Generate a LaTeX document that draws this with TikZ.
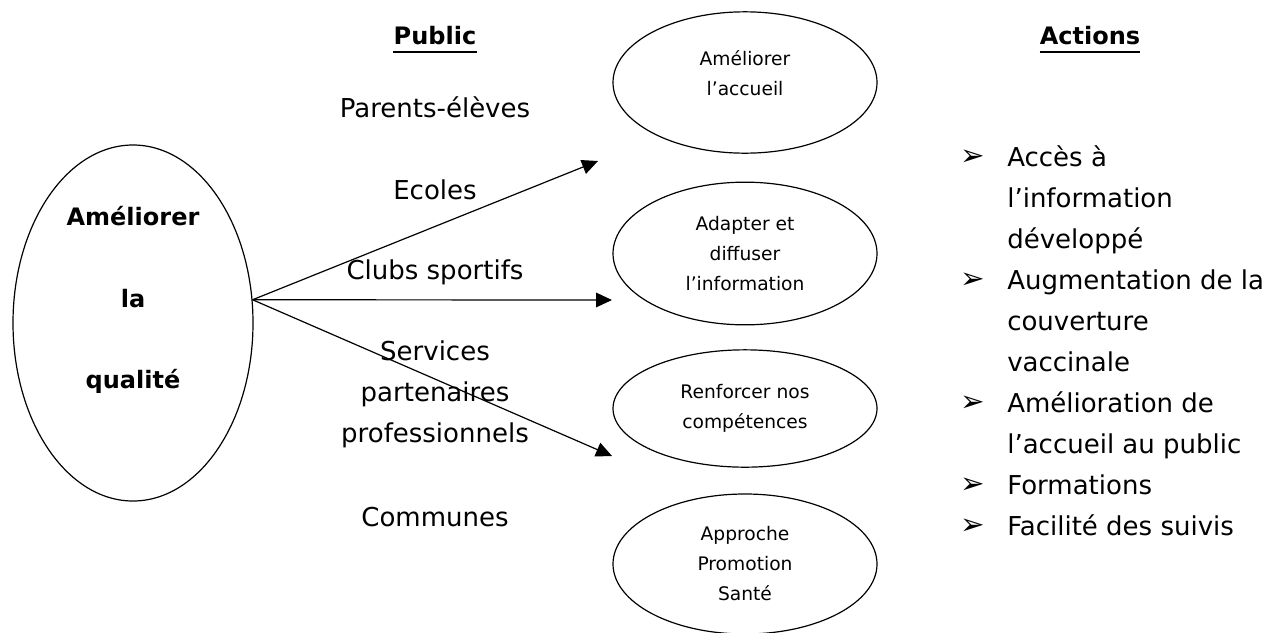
\documentclass[tikz,border=0pt]{standalone}
\usepackage{fontspec}
\setmainfont{DejaVu Sans}
\usetikzlibrary{shapes.geometric,arrows.meta}

\begin{document}
\begin{tikzpicture}[x = 0.75pt, y = -0.75pt,
    every node/.style = { inner sep = 0pt, align = center },
    oval/.style = { draw, shape = ellipse, line width = 0.9pt },
    bigtxt/.style = { font = \fontsize{18}{61}\selectfont\bfseries },
    smalltxt/.style = { font = \fontsize{14}{22.5}\selectfont },
    txt/.style = { font = \fontsize{19.5}{30.75}\selectfont },
    head/.style = { font = \fontsize{18}{22}\selectfont\bfseries },
    arr/.style = { line width = 0.9pt, -{Triangle[length = 12pt, width = 11pt]} }]
  \useasboundingbox (0,0) rectangle (1273,632);

  % goal
  \node [oval, minimum width = 180pt, minimum height = 267pt] (qual) at (133,323) {};
  \node [bigtxt] (qualtxt) at (133,300) {Améliorer\\la\\qualité};

  % public
  \node [head] (pub) at (435,36) {Public};
  \draw [line width = 1.5pt] ([yshift = -5pt] pub.base west) -- ([yshift = -5pt] pub.base east);
  \node [txt] (par) at (435,107) {Parents-élèves};
  \node [txt] (eco) at (435,190) {Ecoles};
  \node [txt] (clu) at (435,272) {Clubs sportifs};
  \node [txt] (ser) at (435,394) {Services\\partenaires\\professionnels};
  \node [txt] (com) at (435,517) {Communes};

  % axes
  \node [oval, minimum width = 198pt, minimum height = 106pt] (acc) at (745,82.5) {};
  \node [smalltxt] (acctxt) at (745,73) {Améliorer\\l’accueil};
  \node [oval, smalltxt, minimum width = 198pt, minimum height = 107pt] (inf) at (745,253.5) {Adapter et\\diffuser\\l’information};
  \node [oval, smalltxt, minimum width = 198pt, minimum height = 88pt] (comp) at (745,408.5) {Renforcer nos\\compétences};
  \node [oval, smalltxt, minimum width = 198pt, minimum height = 105pt] (promo) at (745,564) {Approche\\Promotion\\Santé};

  \coordinate (tip1) at (598,161);
  \coordinate (tip2) at (612,300);
  \coordinate (tip3) at (612,456);
  \foreach \t in {tip1,tip2,tip3}
    \draw [arr] (qual.11) -- (\t);

  % actions
  \node [head] (act) at (1090,36) {Actions};
  \draw [line width = 1.5pt] ([yshift = -5pt] act.base west) -- ([yshift = -5pt] act.base east);
  \foreach \t [count = \i] in {Accès à, l’information, développé, Augmentation de la, couverture,
      vaccinale, Amélioration de, l’accueil au public, Formations, Facilité des suivis}
    \node [txt, anchor = base west] (line\i) at (1007, {166 + 41*\i - 41}) {\t};
  \foreach \i in {1,4,7,9,10}
    \node [font = \fontsize{22}{22}\selectfont, anchor = west] (bul\i) at (960, {158 + 41*\i - 41}) {➢};
\end{tikzpicture}
\end{document}
